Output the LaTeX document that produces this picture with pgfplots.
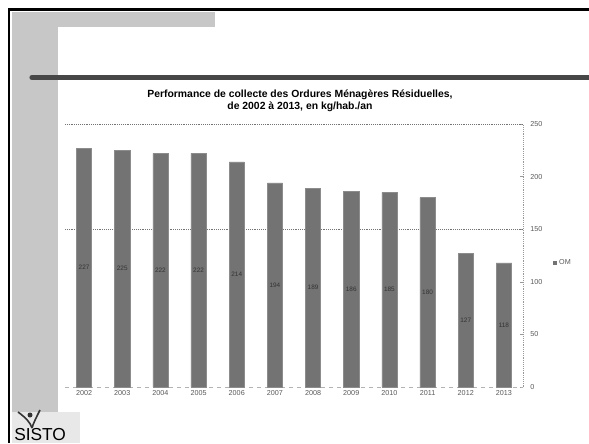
\documentclass[border=0pt]{standalone}
\usepackage{fontspec}
\setmainfont{Liberation Sans}
\usepackage{pgfplots}
\usepackage{pgfplotstable}
\pgfplotsset{compat=1.18}

\pgfplotstableread{
x year val
0 2002 227
1 2003 225
2 2004 222
3 2005 222
4 2006 214
5 2007 194
6 2008 189
7 2009 186
8 2010 185
9 2011 180
10 2012 127
11 2013 118
}\omdata

\begin{document}
\begin{tikzpicture}
\path[use as bounding box] (0,0) rectangle (441.75pt,332.25pt);
% slide decoration (pixel coordinates)
\begin{scope}[x=0.75pt,y=-0.75pt,yshift=332.25pt]
  \fill[black!22] (12,12) rectangle (215,27);
  \fill[black!22] (12,12) rectangle (58,412);
  \fill[black!9] (12,412) rectangle (80,443);
  \draw[black,line width=1.8pt] (9,443) -- (9,9.5) -- (589,9.5);
  \draw[black!72,line width=3.9pt,line cap=round] (32,77.5) -- (595,77.5);
  \draw[black!80,line width=1.2pt] (18,412) .. controls (26,418) and (30,422) .. (32,428);
  \draw[black!80,line width=1.2pt] (40,410) .. controls (36,418) and (33,424) .. (32,428);
  \fill[black!80] (30,415) circle (2.5);
  \node[anchor=south west,inner sep=0pt,font=\fontsize{13pt}{13pt}\selectfont] at (14,441) {SISTO};
\end{scope}
\begin{axis}[
  at={(48.75pt,42pt)}, anchor=south west,
  scale only axis, width=343.5pt, height=197.25pt,
  xmin=-0.5, xmax=11.5, ymin=0, ymax=250,
  axis y line*=right, axis x line*=bottom,
  y axis line style={draw=black!40, densely dotted},
  x axis line style={draw=black!30, dashed},
  xtick={0,...,11},
  xticklabels={2002,2003,2004,2005,2006,2007,2008,2009,2010,2011,2012,2013},
  major x tick style={draw=none},
  ytick={0,50,...,250},
  major y tick style={draw=black!40},
  major tick length=2pt,
  extra y ticks={150,250},
  extra y tick labels={},
  extra y tick style={grid=major, major grid style={draw=black!55, densely dotted, line width=0.5pt}, major tick length=0pt},
  tick label style={font=\fontsize{5.4pt}{6pt}\selectfont, text=black!65},
  /pgf/number format/assume math mode=true,
  yticklabel style={xshift=2pt},
  xticklabel style={yshift=1pt},
  title={Performance de collecte des Ordures Ménagères Résiduelles,\\de 2002 à 2013, en kg/hab./an},
  title style={at={(0.513,1)}, anchor=south, yshift=0pt, align=center,
    font=\bfseries\fontsize{7.8pt}{8.4pt}\selectfont},
  legend style={at={(1.065,0.472)}, anchor=west, draw=none, fill=none,
    font=\fontsize{5.4pt}{6pt}\selectfont, text=black!65, inner sep=0pt,
    legend cell align=left},
  legend image code/.code={\fill[black!55] (0.4pt,-1.1pt) rectangle (2.6pt,1.1pt);},
  clip=false,
]
\addplot[ybar, bar width=11.4pt, fill=black!55, draw=black!45] table[x=x, y=val] {\omdata};
\addlegendentry{OM}
\addplot[draw=none, forget plot, nodes near coords, point meta=explicit,
  nodes near coords style={anchor=center, font=\fontsize{4.8pt}{5pt}\selectfont, text=black!80}]
  table[x=x, y expr=\thisrow{val}/2, meta=val] {\omdata};
\end{axis}
\end{tikzpicture}
\end{document}
